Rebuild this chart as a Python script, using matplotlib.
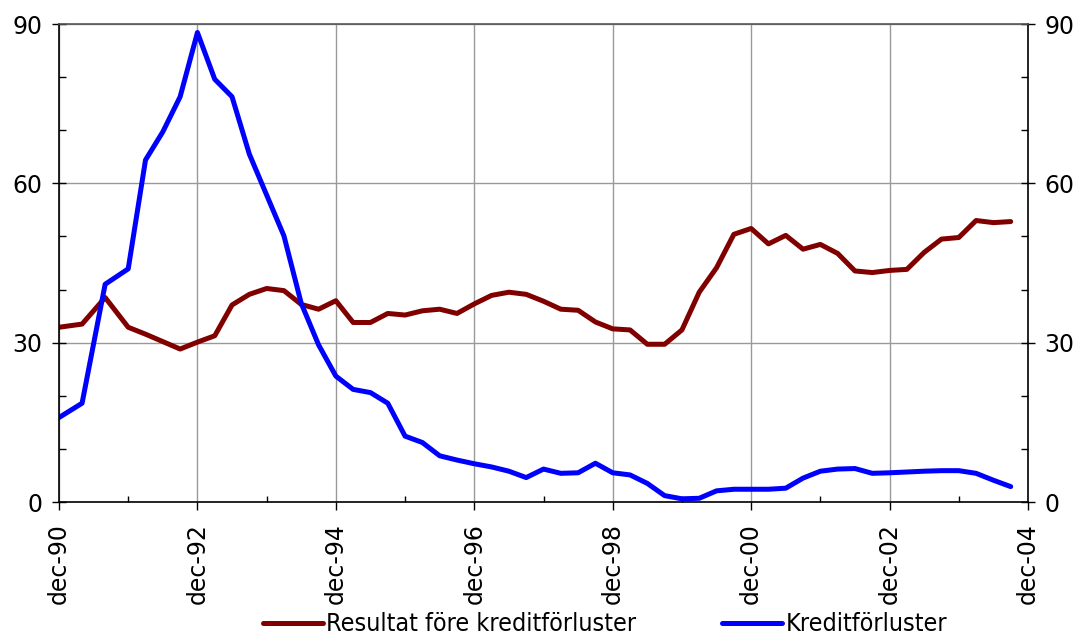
import matplotlib as mpl
import matplotlib.pyplot as plt
from matplotlib.ticker import MultipleLocator

mpl.use('Agg')

# months after dec-90 (first year in four-month steps, then quarterly)
months = [0, 4, 8] + list(range(12, 166, 3))

resultat = [32.9, 33.5, 38.5, 32.9, 31.6, 30.2, 28.8, 30.1, 31.3, 37.1,
            39.1, 40.2, 39.8, 37.2, 36.3, 37.9, 33.8, 33.8, 35.5, 35.2,
            36.0, 36.3, 35.5, 37.3, 38.9, 39.5, 39.1, 37.8, 36.3, 36.1,
            33.9, 32.6, 32.4, 29.7, 29.7, 32.4, 39.5, 44.1, 50.4, 51.5,
            48.6, 50.2, 47.6, 48.5, 46.8, 43.5, 43.2, 43.6, 43.8, 47.0,
            49.5, 49.8, 53.0, 52.6, 52.8]

kreditforluster = [15.9, 18.6, 41.0, 43.9, 64.4, 69.7, 76.3, 88.4, 79.6, 76.3,
                   65.5, 57.8, 50.1, 37.4, 29.6, 23.7, 21.2, 20.6, 18.6, 12.4,
                   11.2, 8.7, 7.9, 7.2, 6.6, 5.8, 4.6, 6.2, 5.4, 5.5,
                   7.3, 5.5, 5.1, 3.5, 1.2, 0.6, 0.7, 2.1, 2.4, 2.4,
                   2.4, 2.6, 4.5, 5.8, 6.2, 6.3, 5.4, 5.5, 5.65, 5.8,
                   5.9, 5.9, 5.4, 4.1, 2.9]

tick_pos = [0, 24, 48, 72, 96, 120, 144, 168]
tick_labels = ['dec-90', 'dec-92', 'dec-94', 'dec-96', 'dec-98', 'dec-00', 'dec-02', 'dec-04']
series_names = ['Resultat före kreditförluster', 'Kreditförluster']

fig = plt.figure(figsize=(10.8, 6.41), dpi=100)
ax = fig.add_axes([59/1080, 1 - 502/641, (1028 - 59)/1080, (502 - 24)/641])

ax.plot(months, resultat, color='#800000', lw=3.6, label=series_names[0], solid_capstyle='round')
ax.plot(months, kreditforluster, color='#0000ff', lw=3.6, label=series_names[1], solid_capstyle='round')

ax.set_xlim(0, 168)
ax.set_ylim(0, 90)
ax.set_xticks(tick_pos)
ax.set_xticklabels(tick_labels, rotation=90)
ax.xaxis.set_minor_locator(MultipleLocator(12))
ax.yaxis.set_major_locator(MultipleLocator(30))
ax.yaxis.set_minor_locator(MultipleLocator(10))

ax.grid(True, which='major', color='#999999', lw=1)
ax.set_axisbelow(True)

ax.tick_params(axis='y', which='major', direction='inout', length=10, width=1,
               left=True, right=True, labelleft=True, labelright=True,
               labelsize=17, pad=7)
ax.tick_params(axis='y', which='minor', direction='in', length=5, width=1,
               left=True, right=True)
ax.tick_params(axis='x', which='major', direction='out', length=6, width=1,
               labelsize=17, pad=9)
ax.tick_params(axis='x', which='minor', direction='in', length=4, width=1)

for side in ['left', 'bottom', 'right']:
    ax.spines[side].set_color('black')
    ax.spines[side].set_linewidth(1.2)
ax.spines['top'].set_color('#555555')
ax.spines['top'].set_linewidth(1.2)

fig.legend(loc='lower center', bbox_to_anchor=(0.56, -0.028), ncol=2, frameon=False,
           prop={'family': 'DejaVu Sans', 'stretch': 'condensed', 'size': 18},
           handlelength=2.4, handletextpad=0.15, columnspacing=3.4)

fig.savefig('out.png', dpi=100)
plt.close(fig)
